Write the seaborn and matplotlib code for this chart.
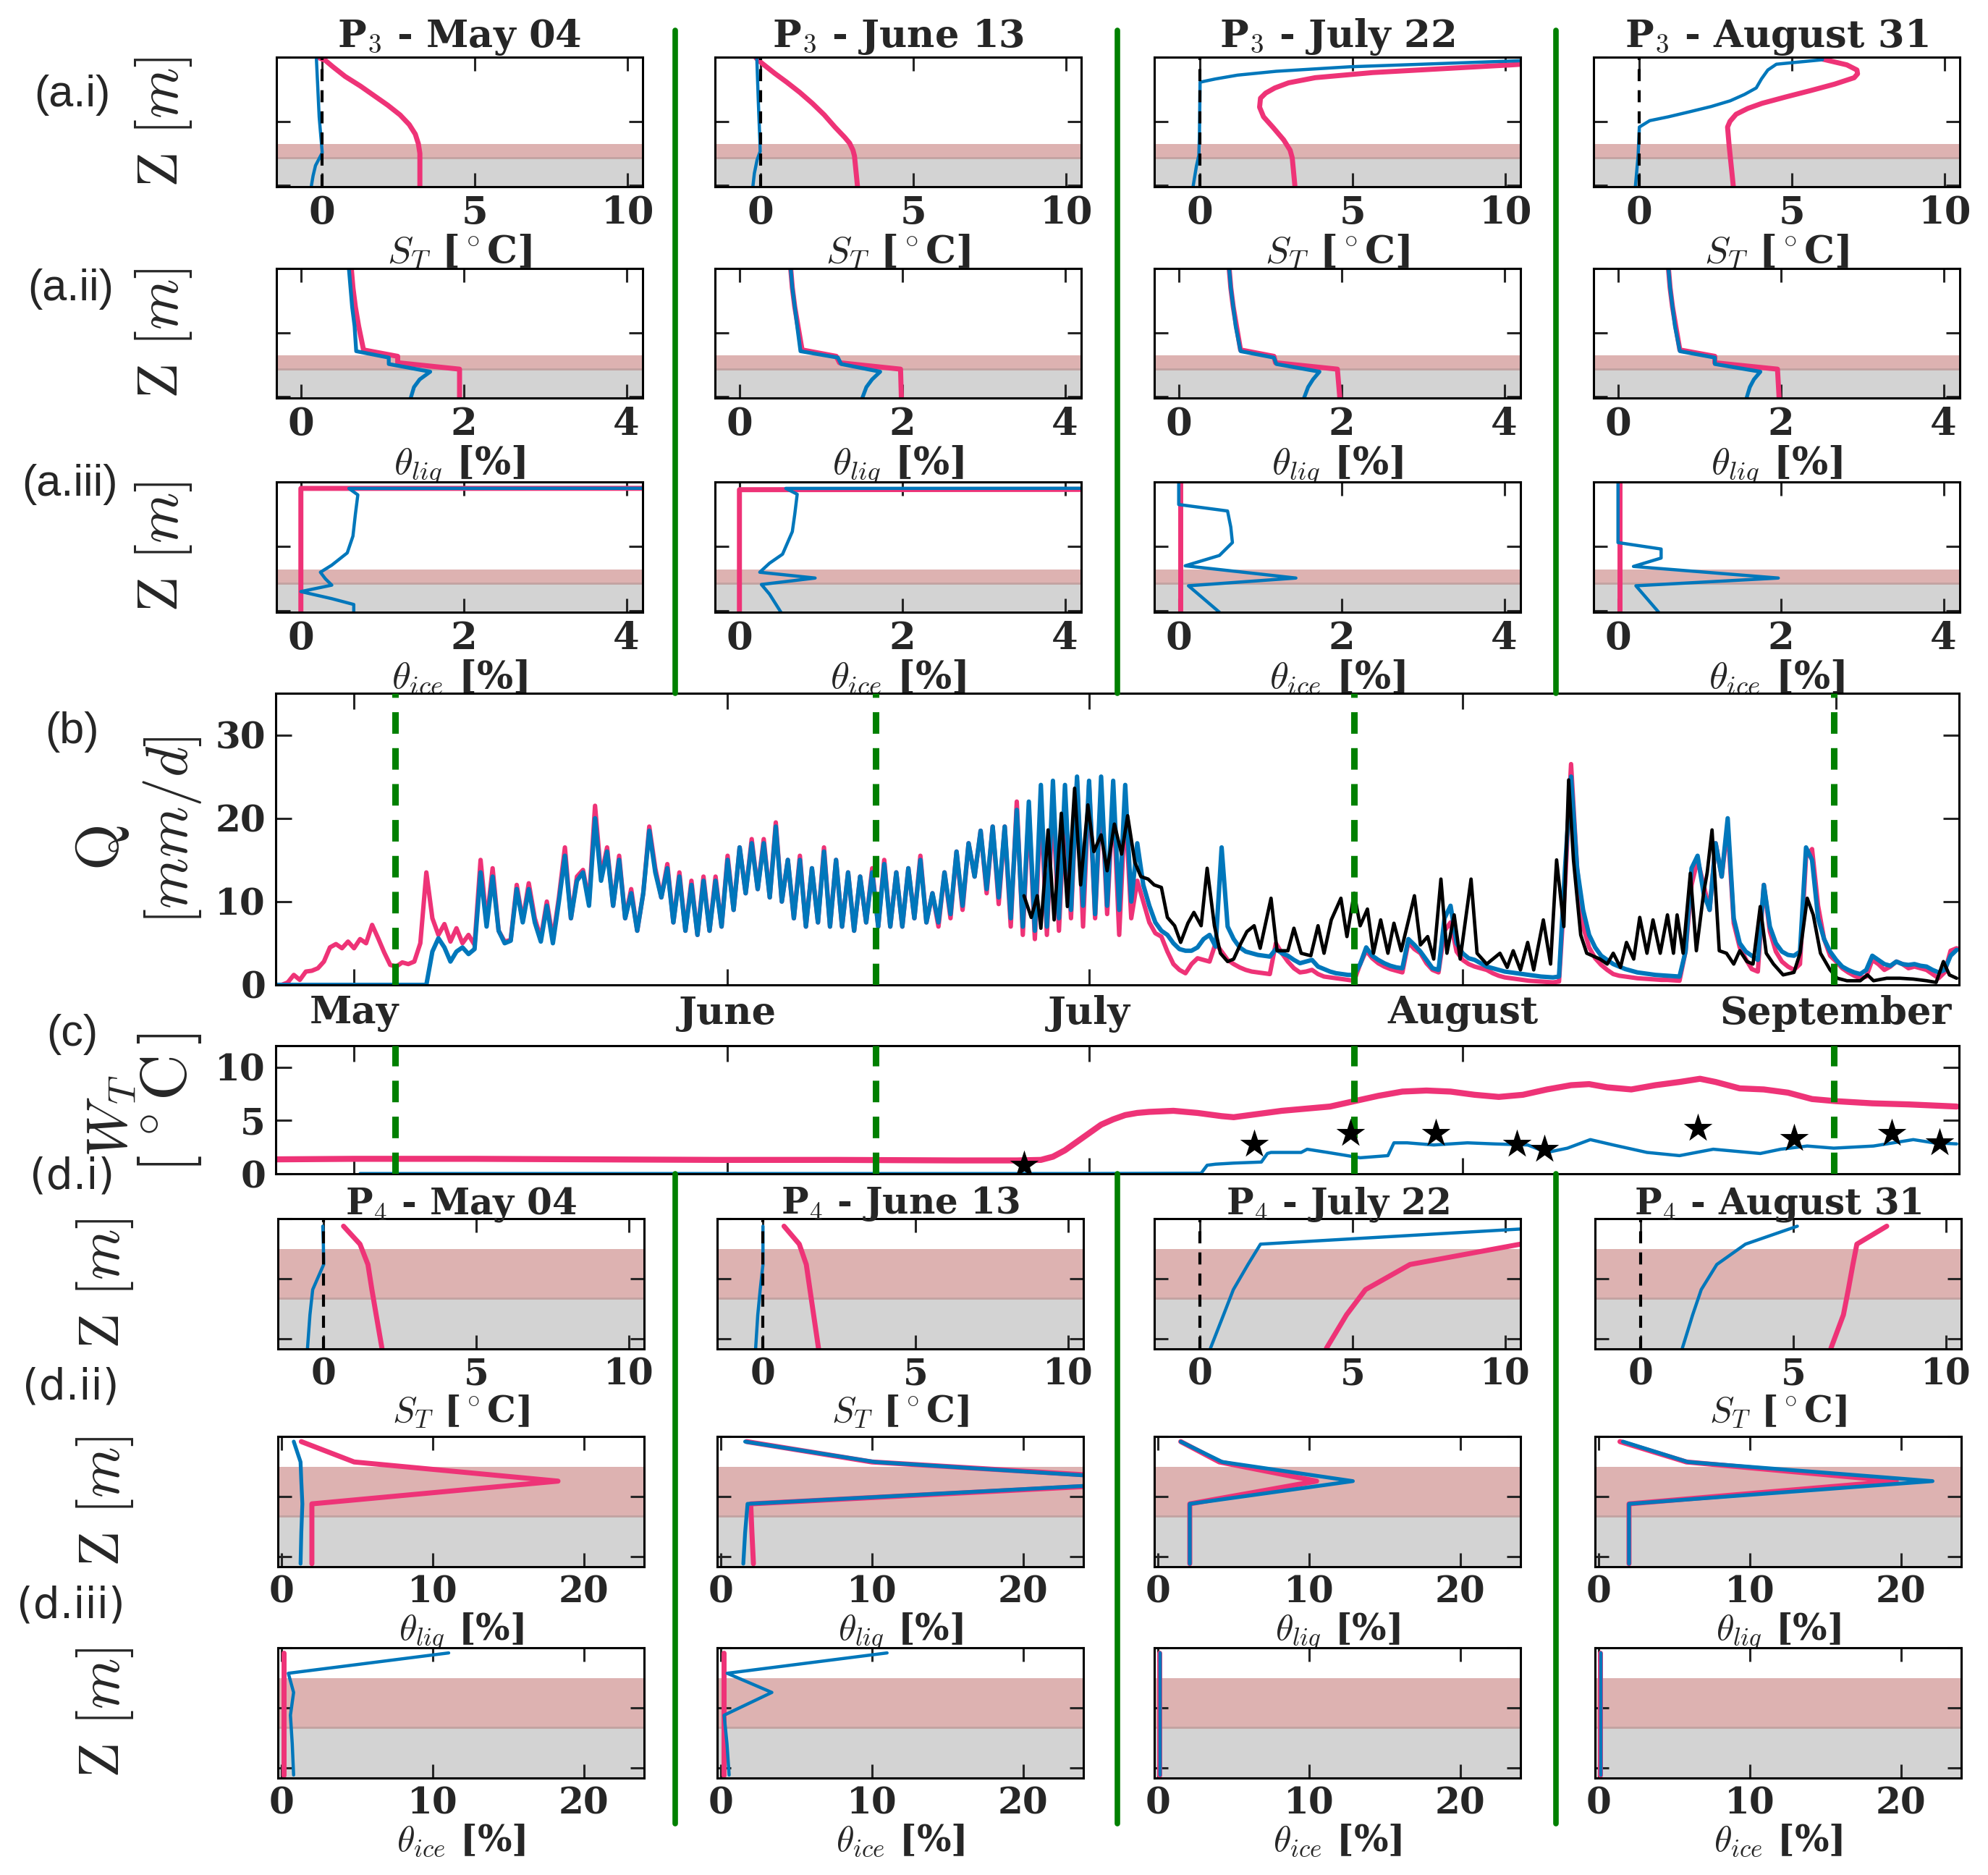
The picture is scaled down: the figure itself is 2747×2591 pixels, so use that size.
import numpy as np
import matplotlib
matplotlib.use("Agg")
import matplotlib.pyplot as plt
from matplotlib.lines import Line2D
import seaborn as sns

# ------------------------------------------------------------------ data
months = ["May", "June", "July", "August", "September"]
month_days = [0, 31, 61, 92, 123]            # days since May 1
profile_titles = ["May 04", "June 13", "July 22", "August 31"]
profile_days = [3.4, 43.3, 83.0, 122.8]       # dashed marker positions (days since May 1)

# discharge Q [mm/d] on a half-day grid starting -6.5 d
q_day = np.arange(-6.5, 133.01, 0.5)
q_pink = [
    0, 0, 0.3, 1.2, 0.6, 1.6, 1.7, 2.0, 2.8, 4.5,
    4.9, 4.4, 5.2, 4.4, 5.5, 5.0, 7.2, 5.6, 3.9, 2.4,
    2.2, 2.7, 2.5, 2.8, 5.0, 13.5, 8.0, 6.0, 7.3, 5.2,
    6.8, 5.0, 6.0, 4.8, 15.0, 7.5, 14.0, 6.5, 5.2, 5.4,
    12.0, 7.7, 12.2, 8.0, 5.6, 10.0, 5.5, 10.5, 16.5, 8.0,
    13.0, 13.8, 10.0, 21.5, 13.0, 16.5, 9.5, 15.5, 8.0, 11.5,
    6.5, 11.0, 19.0, 14.0, 10.5, 14.5, 7.5, 13.5, 6.5, 12.5,
    6.0, 13.0, 6.5, 13.0, 7.0, 15.5, 9.0, 16.5, 11.0, 17.5,
    11.5, 17.5, 10.5, 19.5, 10.0, 15.0, 8.0, 15.5, 7.0, 14.0,
    7.5, 16.5, 7.0, 15.0, 7.0, 13.5, 6.5, 13.0, 7.5, 14.0,
    7.0, 15.0, 7.0, 13.5, 7.0, 14.0, 8.0, 15.5, 7.5, 11.0,
    7.0, 13.5, 8.0, 16.0, 9.0, 17.0, 13.0, 18.5, 11.0, 19.0,
    9.7, 19.0, 7.0, 22.0, 6.0, 21.0, 5.5, 21.5, 6.0, 22.0,
    6.5, 22.0, 8.0, 24.5, 7.0, 24.0, 8.0, 23.5, 8.5, 22.5,
    6.0, 21.5, 8.0, 12.5, 10.0, 7.5, 6.2, 5.8, 4.0, 2.5,
    1.8, 1.4, 2.5, 3.2, 3.0, 2.8, 5.0, 4.0, 3.0, 2.5,
    2.1, 1.8, 1.6, 1.5, 1.4, 1.3, 5.0, 3.8, 2.8, 2.0,
    1.5, 1.6, 1.8, 1.3, 1.0, 0.9, 0.8, 0.7, 0.6, 0.5,
    2.5, 4.1, 3.2, 2.6, 2.2, 1.9, 1.7, 1.5, 5.1, 4.3,
    3.8, 2.6, 1.8, 1.5, 6.5, 7.5, 4.0, 3.0, 2.5, 2.2,
    2.0, 1.8, 1.4, 1.1, 0.9, 0.8, 0.7, 0.6, 0.5, 0.45,
    0.4, 0.35, 0.3, 0.4, 12.0, 26.5, 14.0, 7.0, 4.5, 3.2,
    2.4, 1.8, 1.3, 1.1, 1.0, 0.9, 0.8, 0.75, 0.7, 0.65,
    0.6, 0.6, 0.55, 0.5, 4.0, 12.0, 15.0, 12.0, 9.0, 17.0,
    13.0, 19.0, 7.4, 4.5, 3.1, 1.9, 1.6, 12.0, 6.4, 4.0,
    2.8, 2.2, 1.8, 2.5, 15.3, 16.3, 9.5, 5.5, 3.5, 2.8,
    2.0, 1.5, 1.1, 0.8, 1.0, 3.0, 2.5, 1.8, 2.2, 2.8,
    2.5, 2.0, 2.2, 2.0, 1.8, 1.3, 0.8, 1.5, 4.1, 4.4,
]
q_blue = [
    0, 0, 0, 0, 0, 0, 0, 0, 0, 0,
    0, 0, 0, 0, 0, 0, 0, 0, 0, 0,
    0, 0, 0, 0, 0, 0.0, 4.0, 5.6, 4.5, 2.8,
    4.0, 4.5, 3.7, 4.3, 13.5, 7.0, 13.0, 6.5, 5.0, 5.3,
    11.5, 7.5, 11.5, 7.5, 5.2, 9.5, 5.0, 10.0, 15.5, 8.0,
    12.5, 13.5, 9.5, 20.0, 12.5, 16.0, 9.5, 15.0, 8.0, 11.0,
    6.5, 11.0, 18.5, 13.5, 10.5, 14.0, 7.5, 13.0, 6.5, 12.0,
    6.0, 12.5, 6.5, 12.5, 7.0, 15.0, 9.0, 16.5, 11.0, 17.0,
    11.5, 17.0, 10.5, 19.0, 10.0, 15.0, 8.0, 15.0, 7.0, 14.0,
    7.5, 16.0, 7.0, 15.0, 7.0, 13.5, 6.5, 13.0, 7.5, 13.5,
    7.0, 14.5, 7.0, 13.5, 7.0, 14.0, 8.0, 15.0, 7.5, 11.0,
    7.5, 13.5, 8.5, 16.0, 9.5, 17.0, 13.0, 18.5, 11.5, 19.0,
    10.5, 19.0, 8.0, 21.0, 7.0, 22.0, 6.5, 24.0, 7.0, 24.5,
    8.0, 24.0, 9.0, 25.0, 9.5, 24.5, 8.5, 25.0, 9.5, 24.5,
    9.0, 24.0, 10.0, 17.0, 12.0, 9.5, 7.5, 6.5, 6.0, 5.0,
    4.3, 4.1, 4.1, 4.5, 5.5, 6.0, 4.6, 16.5, 7.0, 5.5,
    4.5, 4.0, 3.8, 3.6, 3.5, 3.4, 4.3, 3.8, 3.5, 3.0,
    2.6, 2.8, 3.0, 2.2, 1.9, 1.6, 1.4, 1.3, 1.2, 1.2,
    2.5, 4.5, 3.5, 3.0, 2.6, 2.3, 2.1, 2.0, 5.5, 4.8,
    4.0, 3.0, 2.0, 1.8, 8.0, 9.5, 5.0, 3.8, 3.2, 3.0,
    2.6, 2.2, 2.0, 1.8, 1.6, 1.5, 1.4, 1.3, 1.2, 1.1,
    1.0, 0.95, 0.9, 1.0, 14.0, 25.0, 14.0, 9.0, 6.0, 4.5,
    3.5, 3.0, 2.5, 2.2, 1.9, 1.7, 1.5, 1.4, 1.3, 1.2,
    1.15, 1.1, 1.05, 1.0, 4.0, 14.0, 15.5, 11.0, 9.0, 17.0,
    13.0, 20.0, 8.0, 5.0, 4.0, 3.5, 3.0, 12.0, 7.0, 5.0,
    4.0, 3.6, 3.5, 4.0, 16.5, 15.0, 8.0, 5.5, 4.0, 3.0,
    2.2, 1.8, 1.5, 1.3, 1.8, 3.5, 3.0, 2.5, 2.3, 2.8,
    2.5, 2.4, 2.5, 2.3, 2.2, 1.8, 1.5, 1.8, 3.5, 4.2,
]
q_obs_day = [55.6, 56.2, 56.7, 57.0, 57.6, 58.1, 58.7, 59.2, 59.8, 60.3, 60.9, 61.4, 62.0,
             62.5, 63.1, 63.7, 64.2, 64.8, 65.3, 65.9, 66.4, 67.0, 67.5, 68.1, 68.6, 69.2,
             69.7, 70.3, 70.8, 71.4, 71.9, 72.5, 73.0, 73.6, 74.1, 74.7, 75.2, 76.1, 76.6,
             77.5, 78.0, 78.6, 79.4, 80.0, 80.5, 81.1, 81.9, 82.4, 83.0, 83.5, 84.1, 84.6,
             85.2, 85.8, 86.3, 86.9, 87.4, 88.0, 88.5, 89.1, 89.6, 90.2, 90.7, 91.3, 91.8,
             92.7, 93.2, 94.0, 95.1, 95.7, 96.2, 96.8, 97.4, 97.9, 98.7, 99.3, 99.8, 100.4,
             100.8, 101.2, 101.8, 102.3, 103.4, 104.0, 104.5, 105.1, 105.6, 106.2, 106.7,
             107.3, 107.8, 108.4, 109.0, 109.5, 109.8, 110.3, 110.9, 111.4, 112.0, 112.3,
             112.7, 113.3, 113.9, 114.5, 115.0, 115.6, 116.1, 116.7, 117.2, 117.8, 118.6,
             119.5, 120.0, 120.6, 121.1, 121.7, 122.5, 123.1, 123.9, 125.0, 125.6, 126.1,
             127.2, 128.3, 129.4, 130.5, 131.3, 131.9, 132.4, 133.0]
q_obs = [10.7, 8.1, 10.7, 6.8, 18.6, 7.8, 20.6, 9.4, 23.6, 12.0, 21.6, 16.0, 18.0,
         13.7, 19.3, 15.7, 20.3, 14.7, 13.0, 12.7, 12.0, 11.7, 8.1, 7.1, 5.1, 7.4,
         8.7, 7.1, 14.0, 7.1, 3.8, 2.8, 3.1, 5.0, 6.4, 7.1, 4.4, 10.4, 4.1,
         4.1, 6.8, 3.8, 3.5, 7.1, 3.8, 7.8, 10.4, 5.8, 11.0, 7.1, 9.1, 3.8,
         7.8, 3.8, 7.4, 4.1, 7.1, 10.7, 4.8, 5.8, 3.1, 12.7, 3.8, 8.4, 3.1,
         12.7, 3.8, 2.5, 3.8, 2.1, 4.1, 1.8, 5.1, 1.8, 7.8, 2.5, 15.0, 7.0,
         24.6, 15.0, 6.0, 3.8, 3.1, 2.5, 3.8, 2.1, 5.1, 3.1, 8.1,
         3.8, 7.8, 3.8, 8.4, 3.8, 8.4, 3.8, 13.4, 4.1, 11.0, 13.5,
         18.6, 4.1, 3.8, 2.5, 4.1, 2.8, 2.5, 9.4, 3.8, 2.5, 1.2,
         1.5, 3.8, 10.4, 8.4, 3.8, 1.8, 0.8, 0.5, 0.5, 1.2, 0.5,
         0.8, 0.8, 0.7, 0.5, 0.3, 2.8, 1.2, 0.8]

# water temperature W_T [degC]
wt_pink_day = [-6.5, 0, 10, 20, 30, 40, 50, 55, 57, 58, 59, 60, 61, 62, 63, 64, 65, 66, 68,
               70, 72, 73, 75, 77, 79, 81, 83, 85, 87, 89, 91, 93, 95, 97, 99, 101, 102.5,
               104, 106, 108, 110, 111.7, 113, 115, 117, 119, 121, 123, 126, 129, 133]
wt_pink = [1.35, 1.4, 1.4, 1.35, 1.3, 1.3, 1.25, 1.25, 1.3, 1.6, 2.2, 3.0, 3.8, 4.6, 5.1, 5.5,
           5.7, 5.8, 5.9, 5.7, 5.4, 5.3, 5.6, 5.9, 6.1, 6.3, 6.8, 7.3, 7.7, 7.8, 7.7, 7.4,
           7.2, 7.4, 7.9, 8.3, 8.4, 8.1, 7.9, 8.3, 8.6, 8.9, 8.6, 8.0, 7.9, 7.6, 7.0, 6.8,
           6.6, 6.5, 6.3]
wt_blue_day = [0.5, 20, 40, 60, 70.3, 70.8, 71.5, 73, 75.3, 75.8, 76.1, 78.6, 79.1, 80.8, 83.5,
               85.8, 86.3, 87.4, 89.6, 92.4, 94.6, 97.4, 99.0, 100.7, 102.6, 104.5, 107.3,
               110, 112.8, 116.7, 118.4, 120.6, 122.8, 126.1, 129.4, 131.1, 133]
wt_blue = [0.02, 0.02, 0.02, 0.02, 0.05, 0.8, 0.9, 1.0, 1.1, 1.9, 2.0, 2.0, 2.3, 2.0, 1.5,
           1.7, 2.9, 2.9, 2.7, 2.9, 2.8, 2.7, 2.0, 2.4, 3.2, 2.7, 2.0, 1.7, 2.3, 1.9, 2.3,
           2.6, 2.4, 2.6, 3.2, 2.9, 2.8]
wt_obs_day = [55.6, 74.7, 82.7, 89.8, 96.5, 98.8, 111.5, 119.5, 127.6, 131.6]
wt_obs = [0.8, 2.8, 3.8, 3.8, 2.8, 2.3, 4.3, 3.3, 3.8, 2.9]

# ---- P3 profiles (depth Z [m]) ----
p3_st_pink_may_z = [0.0, -0.05, -0.15, -0.3, -0.45, -0.6, -0.75, -0.9, -1.05, -1.2, -1.35, -1.5, -1.7, -2.02]
p3_st_pink_may = [-0.15, 0.1, 0.35, 0.75, 1.25, 1.7, 2.15, 2.55, 2.85, 3.05, 3.15, 3.2, 3.2, 3.2]
p3_st_blue_may_z = [-0.03, -0.93, -1.49, -1.6, -1.69, -1.85, -2.02]
p3_st_blue_may = [-0.19, -0.1, 0.0, -0.12, -0.22, -0.3, -0.36]
p3_st_pink_jun_z = [-0.01, -0.08, -0.25, -0.39, -0.55, -0.72, -0.9, -1.09, -1.25, -1.34, -1.45, -1.54, -2.02]
p3_st_pink_jun = [-0.16, 0.0, 0.45, 0.85, 1.28, 1.69, 2.08, 2.43, 2.75, 2.91, 3.02, 3.07, 3.17]
p3_st_blue_jun_z = [-0.01, -0.7, -1.3, -1.47, -1.6, -1.81, -2.02]
p3_st_blue_jun = [-0.13, -0.08, -0.03, -0.02, -0.12, -0.21, -0.26]
p3_st_pink_jul_z = [-0.05, -0.12, -0.24, -0.32, -0.40, -0.48, -0.56, -0.64, -0.78, -0.93, -1.1, -1.29, -1.45, -1.57, -2.02]
p3_st_pink_jul = [12.5, 10.2, 5.66, 3.77, 2.9, 2.45, 2.15, 1.98, 1.95, 2.08, 2.4, 2.74, 2.95, 3.02, 3.11]
p3_st_blue_jul_z = [-0.03, -0.15, -0.22, -0.28, -0.34, -0.39, -0.8, -1.2, -1.53, -1.7, -2.02]
p3_st_blue_jul = [12.0, 4.9, 2.5, 1.23, 0.5, 0.0, -0.01, -0.02, -0.04, -0.12, -0.23]
p3_st_pink_aug_z = [-0.03, -0.12, -0.2, -0.26, -0.32, -0.42, -0.52, -0.62, -0.72, -0.8, -0.89, -1.0, -1.09, -1.37, -2.02]
p3_st_pink_aug = [6.0, 6.8, 7.13, 7.15, 7.04, 6.4, 5.62, 4.8, 4.02, 3.55, 3.17, 2.97, 2.89, 2.94, 3.08]
p3_st_blue_aug_z = [-0.04, -0.11, -0.2, -0.34, -0.48, -0.58, -0.68, -0.77, -0.85, -0.93, -0.99, -1.09, -1.53, -2.02]
p3_st_blue_aug = [6.0, 4.49, 4.21, 4.0, 3.83, 3.45, 2.98, 2.35, 1.66, 0.95, 0.34, 0.0, -0.04, -0.13]

p3_liq_pink_z = [0.0, -0.3, -0.6, -0.9, -1.27, -1.37, -1.47, -1.57, -2.02]
p3_liq_blue_z = [0.0, -0.3, -0.6, -0.9, -1.29, -1.39, -1.49, -1.61, -1.73, -1.85, -2.02]
p3_liq_pink_may = [0.62, 0.64, 0.67, 0.71, 0.77, 1.19, 1.19, 1.95, 1.95]
p3_liq_blue_may = [0.59, 0.61, 0.63, 0.66, 0.68, 1.08, 1.08, 1.59, 1.46, 1.39, 1.35]
p3_liq_pink_jun = [0.63, 0.65, 0.68, 0.72, 0.77, 1.19, 1.23, 1.98, 1.99]
p3_liq_blue_jun = [0.63, 0.65, 0.68, 0.71, 0.75, 1.21, 1.25, 1.73, 1.63, 1.56, 1.51]
p3_liq_pink_jul = [0.62, 0.64, 0.67, 0.71, 0.76, 1.17, 1.19, 1.95, 1.98]
p3_liq_blue_jul = [0.62, 0.64, 0.67, 0.70, 0.76, 1.17, 1.2, 1.73, 1.65, 1.59, 1.54]
p3_liq_pink_aug = [0.62, 0.64, 0.67, 0.71, 0.76, 1.19, 1.19, 1.96, 1.98]
p3_liq_blue_aug = [0.62, 0.64, 0.67, 0.70, 0.76, 1.19, 1.19, 1.75, 1.67, 1.62, 1.58]

p3_ice_pink_may_z = [-0.09, -0.10, -2.02]
p3_ice_pink_may = [30.0, 0.0, 0.0]
p3_ice_blue_may_z = [-0.085, -0.10, -0.2, -0.5, -0.84, -1.1, -1.29, -1.40, -1.5, -1.6, -1.7, -1.81, -1.9, -2.02]
p3_ice_blue_may = [30.0, 0.59, 0.70, 0.67, 0.64, 0.57, 0.38, 0.24, 0.3, 0.38, 0.0, 0.38, 0.65, 0.65]
p3_ice_pink_jun_z = [-0.09, -0.12, -2.02]
p3_ice_pink_jun = [30.0, 0.0, 0.0]
p3_ice_blue_jun_z = [-0.085, -0.10, -0.19, -0.5, -0.77, -1.12, -1.26, -1.40, -1.49, -1.59, -1.74, -2.02]
p3_ice_blue_jun = [30.0, 0.57, 0.71, 0.68, 0.65, 0.53, 0.37, 0.25, 0.93, 0.27, 0.37, 0.51]
p3_ice_pink_jul_z = [0.0, -2.02]
p3_ice_pink_jul = [0.02, 0.02]
p3_ice_blue_jul_z = [-0.02, -0.35, -0.45, -0.7, -0.94, -1.14, -1.3, -1.49, -1.61, -2.02]
p3_ice_blue_jul = [0.0, 0.0, 0.6, 0.64, 0.66, 0.5, 0.08, 1.44, 0.12, 0.5]
p3_ice_pink_aug_z = [0.0, -2.02]
p3_ice_pink_aug = [0.02, 0.02]
p3_ice_blue_aug_z = [-0.02, -0.94, -1.04, -1.18, -1.31, -1.49, -1.61, -2.02]
p3_ice_blue_aug = [0.0, 0.0, 0.53, 0.53, 0.19, 1.97, 0.22, 0.5]

# ---- P4 profiles ----
p4_st_z = [-0.06, -0.21, -0.38, -0.59, -0.80, -1.08]
p4_st_pink_may = [0.65, 1.19, 1.45, 1.58, 1.72, 1.91]
p4_st_blue_may = [-0.03, -0.01, 0.0, -0.36, -0.45, -0.53]
p4_st_pink_jun = [0.69, 1.19, 1.42, 1.54, 1.66, 1.82]
p4_st_blue_jun = [0.0, 0.0, 0.0, -0.09, -0.17, -0.24]
p4_st_pink_jul = [13.5, 10.5, 6.88, 5.42, 4.8, 4.14]
p4_st_blue_jul = [12.1, 1.98, 1.57, 1.09, 0.77, 0.34]
p4_st_pink_aug = [8.06, 7.08, 6.95, 6.8, 6.64, 6.23]
p4_st_blue_aug = [5.13, 3.43, 2.49, 1.98, 1.7, 1.36]

p4_w_z = [-0.04, -0.21, -0.37, -0.56, -0.80, -1.06]
p4_liq_pink_may = [1.3, 4.8, 18.3, 2.0, 2.0, 2.0]
p4_liq_blue_may = [0.8, 1.25, 1.3, 1.37, 1.3, 1.25]
p4_liq_pink_jun = [1.7, 10.0, 31.0, 1.97, 2.05, 2.15]
p4_liq_blue_jun = [1.6, 10.2, 30.0, 1.76, 1.6, 1.48]
p4_liq_pink_jul = [1.5, 4.06, 10.5, 2.1, 2.1, 2.1]
p4_liq_blue_jul = [1.5, 4.25, 12.9, 2.1, 2.1, 2.1]
p4_liq_pink_aug = [1.4, 5.8, 19.7, 2.0, 2.0, 2.0]
p4_liq_blue_aug = [1.6, 5.9, 22.1, 2.0, 2.0, 2.0]

p4_ice_pink_may = [0.15, 0.15, 0.15, 0.15, 0.15, 0.15]
p4_ice_blue_may = [11.06, 0.44, 0.79, 0.58, 0.7, 0.79]
p4_ice_pink_jun = [0.2, 0.2, 0.2, 0.2, 0.2, 0.2]
p4_ice_blue_jun = [11.0, 0.41, 3.37, 0.21, 0.4, 0.54]
p4_ice_pink_jul = [0.1, 0.1, 0.1, 0.1, 0.1, 0.1]
p4_ice_blue_jul = [0.12, 0.12, 0.12, 0.12, 0.12, 0.12]
p4_ice_pink_aug = [0.1, 0.1, 0.1, 0.1, 0.1, 0.1]
p4_ice_blue_aug = [0.12, 0.12, 0.12, 0.12, 0.12, 0.12]

# soil layer bands (Z in m): (bottom, top) of grey and rose layers
p3_grey_band = (-2.02, -1.569)
p3_rose_band = (-1.569, -1.356)
p4_grey_band = (-1.085, -0.66)
p4_rose_band = (-0.66, -0.25)

# ------------------------------------------------------------------ style
sns.set_theme(style="ticks")
plt.rcParams["font.family"] = ["DejaVu Serif"]
plt.rcParams["font.weight"] = "bold"
plt.rcParams["axes.labelweight"] = "bold"
plt.rcParams["mathtext.fontset"] = "cm"
plt.rcParams["axes.linewidth"] = 2.2
plt.rcParams["axes.edgecolor"] = "black"

PINK = "#EE3377"
BLUE = "#0077BB"
GREEN = "#008000"
GREY_FILL = "#d3d3d3"
ROSE_FILL = "#ddb2b1"
EDGE = "#c2a2a1"

W, H = 2747, 2591
fig = plt.figure(figsize=(W / 100, H / 100), dpi=100)


def px_axes(left, top, width, height):
    return fig.add_axes([left / W, 1 - (top + height) / H, width / W, height / H])


def line(ax, x, y, color, lw):
    sns.lineplot(x=x, y=y, sort=False, estimator=None, color=color, linewidth=lw, ax=ax)


def profile(ax, curves, xlim, xticks, ylim, yticks, grey, rose, xlabel, fs, zero_line=False):
    ax.axhspan(grey[0], grey[1], color=GREY_FILL, lw=0, zorder=0)
    ax.axhspan(rose[0], rose[1], color=ROSE_FILL, lw=0, zorder=0)
    ax.axhline(grey[1], color=EDGE, lw=2, zorder=0.5)
    for x, z, color, lw in curves:
        line(ax, x, z, color, lw)
    if zero_line:
        ax.axvline(0, color="black", lw=3, ls=(0, (4, 3)), zorder=3)
    ax.set_xlim(*xlim)
    ax.set_ylim(*ylim)
    ax.set_xticks(xticks)
    ax.set_xticklabels([str(t) for t in xticks])
    ax.set_yticks(yticks)
    ax.tick_params(axis="both", direction="in", top=True, right=True, length=14,
                   width=2.2, labelsize=fs, pad=8, labelleft=False)
    if xlabel:
        ax.set_xlabel(xlabel, fontsize=fs, labelpad=1)
    else:
        ax.set_xlabel("")
    ax.set_ylabel("")
    for s in ax.spines.values():
        s.set_linewidth(2.2)
        s.set_color("black")


ST_LABEL = r"$S_T$ [$^\circ$C]"
LIQ_LABEL = r"$\theta_{liq}$ [%]"
ICE_LABEL = r"$\theta_{ice}$ [%]"
Z_LABEL = r"$\mathrm{Z}\ [m]$"

# ------------------------------------------------------------------ P3 block
top_lefts = [382, 988, 1595, 2202]
top_rows = [(79, 179), (371, 179), (666, 180)]
p3_st = [(p3_st_pink_may, p3_st_pink_may_z, p3_st_blue_may, p3_st_blue_may_z),
         (p3_st_pink_jun, p3_st_pink_jun_z, p3_st_blue_jun, p3_st_blue_jun_z),
         (p3_st_pink_jul, p3_st_pink_jul_z, p3_st_blue_jul, p3_st_blue_jul_z),
         (p3_st_pink_aug, p3_st_pink_aug_z, p3_st_blue_aug, p3_st_blue_aug_z)]
p3_liq = [(p3_liq_pink_may, p3_liq_blue_may), (p3_liq_pink_jun, p3_liq_blue_jun),
          (p3_liq_pink_jul, p3_liq_blue_jul), (p3_liq_pink_aug, p3_liq_blue_aug)]
p3_ice = [(p3_ice_pink_may, p3_ice_pink_may_z, p3_ice_blue_may, p3_ice_blue_may_z),
          (p3_ice_pink_jun, p3_ice_pink_jun_z, p3_ice_blue_jun, p3_ice_blue_jun_z),
          (p3_ice_pink_jul, p3_ice_pink_jul_z, p3_ice_blue_jul, p3_ice_blue_jul_z),
          (p3_ice_pink_aug, p3_ice_pink_aug_z, p3_ice_blue_aug, p3_ice_blue_aug_z)]

FS_TOP = 38
LW_P, LW_B = 5.0, 3.2
p3_ylim = (-2.02, 0.0)
p3_yticks = [-2, -1, 0]
for c, left in enumerate(top_lefts):
    pk, pkz, bl, blz = p3_st[c]
    ax = px_axes(left, top_rows[0][0], 506, top_rows[0][1])
    profile(ax, [(pk, pkz, PINK, LW_P), (bl, blz, BLUE, LW_B)], (-1.5, 10.5), [0, 5, 10],
            p3_ylim, p3_yticks, p3_grey_band, p3_rose_band, ST_LABEL, FS_TOP, zero_line=True)
    ax.set_title("P$_3$ - " + profile_titles[c], fontsize=FS_TOP, fontweight="bold", pad=10)
    if c == 0:
        ax.set_ylabel(Z_LABEL, fontsize=58)
        ax.yaxis.set_label_coords(-0.225, 0.5)

    pk, bl = p3_liq[c]
    ax = px_axes(left, top_rows[1][0], 506, top_rows[1][1])
    profile(ax, [(pk, p3_liq_pink_z, PINK, LW_P), (bl, p3_liq_blue_z, BLUE, LW_B + 0.6)],
            (-0.3, 4.2), [0, 2, 4], p3_ylim, p3_yticks, p3_grey_band, p3_rose_band,
            LIQ_LABEL, FS_TOP)
    if c == 0:
        ax.set_ylabel(Z_LABEL, fontsize=58)
        ax.yaxis.set_label_coords(-0.225, 0.5)

    pk, pkz, bl, blz = p3_ice[c]
    ax = px_axes(left, top_rows[2][0], 506, top_rows[2][1])
    profile(ax, [(pk, pkz, PINK, LW_P), (bl, blz, BLUE, LW_B)], (-0.3, 4.2), [0, 2, 4],
            p3_ylim, p3_yticks, p3_grey_band, p3_rose_band, ICE_LABEL, FS_TOP)
    if c == 0:
        ax.set_ylabel(Z_LABEL, fontsize=58)
        ax.yaxis.set_label_coords(-0.225, 0.5)

# ------------------------------------------------------------------ panel (b)
FS_B = 36
DASH = (0, (3.3, 2.2))
axb = px_axes(381, 958, 2326, 403)
for d in profile_days:
    axb.axvline(d, color=GREEN, lw=6.5, ls=DASH, zorder=5)
line(axb, q_day, q_pink, PINK, 4.4)
line(axb, q_day, q_blue, BLUE, 4.4)
line(axb, q_obs_day, q_obs, "black", 3.4)
axb.set_xlim(-6.5, 133.2)
axb.set_ylim(0, 35)
axb.set_yticks([0, 10, 20, 30])
axb.set_xticks(month_days)
axb.set_xticklabels(months, fontsize=38, fontweight="bold")
axb.tick_params(axis="both", direction="in", top=True, right=True, length=16, width=2.2,
                labelsize=FS_B, pad=10)
axb.tick_params(axis="x", labelsize=38)
axb.set_xlabel("")
axb.set_ylabel("$[mm/d]$", fontsize=58)
axb.yaxis.set_label_coords(-0.043, 0.53)
axb.text(-0.086, 0.47, "$\\mathrm{Q}$", transform=axb.transAxes, rotation=90, fontsize=60,
         ha="right", va="center")

# ------------------------------------------------------------------ panel (c)
axc = px_axes(381, 1445, 2326, 177)
for d in profile_days:
    axc.axvline(d, color=GREEN, lw=6.5, ls=DASH, zorder=5)
line(axc, wt_pink_day, wt_pink, PINK, 6.0)
line(axc, wt_blue_day, wt_blue, BLUE, 3.2)
sns.scatterplot(x=wt_obs_day, y=wt_obs, marker="*", s=900, color="black", linewidth=0,
                ax=axc, zorder=6)
axc.set_xlim(-6.5, 133.2)
axc.set_ylim(0, 12)
axc.set_yticks([0, 5, 10])
axc.set_xticks(month_days)
axc.set_xticklabels([])
axc.tick_params(axis="both", direction="in", top=True, right=True, length=16, width=2.2,
                labelsize=FS_B, pad=10)
axc.set_xlabel("")
axc.set_ylabel("$[\\,^\\circ\\mathrm{C}\\,]$", fontsize=64)
axc.yaxis.set_label_coords(-0.043, 0.55)
axc.text(-0.082, 0.45, "$W_T$", transform=axc.transAxes, rotation=90, fontsize=56,
         ha="right", va="center")

# ------------------------------------------------------------------ P4 block
bot_lefts = [384, 991, 1595, 2204]
bot_rows = [(1684, 180), (1985, 180), (2277, 180)]
p4_st = [(p4_st_pink_may, p4_st_blue_may), (p4_st_pink_jun, p4_st_blue_jun),
         (p4_st_pink_jul, p4_st_blue_jul), (p4_st_pink_aug, p4_st_blue_aug)]
p4_liq = [(p4_liq_pink_may, p4_liq_blue_may), (p4_liq_pink_jun, p4_liq_blue_jun),
          (p4_liq_pink_jul, p4_liq_blue_jul), (p4_liq_pink_aug, p4_liq_blue_aug)]
p4_ice = [(p4_ice_pink_may, p4_ice_blue_may), (p4_ice_pink_jun, p4_ice_blue_jun),
          (p4_ice_pink_jul, p4_ice_blue_jul), (p4_ice_pink_aug, p4_ice_blue_aug)]
FS_BOT = 36
p4_ylim = (-1.085, 0.003)
p4_yticks = [-1.0, -0.5, 0.0]
for c, left in enumerate(bot_lefts):
    pk, bl = p4_st[c]
    ax = px_axes(left, bot_rows[0][0], 506, bot_rows[0][1])
    profile(ax, [(pk, p4_st_z, PINK, LW_P), (bl, p4_st_z, BLUE, LW_B)], (-1.5, 10.5),
            [0, 5, 10], p4_ylim, p4_yticks, p4_grey_band, p4_rose_band,
            ST_LABEL if c != 2 else None, FS_BOT, zero_line=True)
    ax.set_title("P$_4$ - " + profile_titles[c], fontsize=FS_BOT, fontweight="bold", pad=5)
    if c == 0:
        ax.set_ylabel(Z_LABEL, fontsize=58)
        ax.yaxis.set_label_coords(-0.39, 0.5)

    pk, bl = p4_liq[c]
    ax = px_axes(left, bot_rows[1][0], 506, bot_rows[1][1])
    profile(ax, [(pk, p4_w_z, PINK, LW_P), (bl, p4_w_z, BLUE, LW_B + 0.6)], (-0.25, 24),
            [0, 10, 20], p4_ylim, p4_yticks, p4_grey_band, p4_rose_band, LIQ_LABEL, FS_BOT)
    if c == 0:
        ax.set_ylabel(Z_LABEL, fontsize=58)
        ax.yaxis.set_label_coords(-0.39, 0.5)

    pk, bl = p4_ice[c]
    ax = px_axes(left, bot_rows[2][0], 506, bot_rows[2][1])
    profile(ax, [(pk, p4_w_z, PINK, LW_P), (bl, p4_w_z, BLUE, LW_B)], (-0.25, 24),
            [0, 10, 20], p4_ylim, p4_yticks, p4_grey_band, p4_rose_band, ICE_LABEL, FS_BOT)
    if c == 0:
        ax.set_ylabel(Z_LABEL, fontsize=58)
        ax.yaxis.set_label_coords(-0.39, 0.5)

# ------------------------------------------------------------------ separators & panel tags
for x in [933, 1544, 2150]:
    fig.add_artist(Line2D([x / W, x / W], [1 - 42 / H, 1 - 958 / H], color=GREEN, lw=5.5))
    fig.add_artist(Line2D([x / W, x / W], [1 - 1622 / H, 1 - 2520 / H], color=GREEN, lw=5.5))

tags_top = [("(a.i)", 100, 131), ("(a.ii)", 98, 400), ("(a.iii)", 96, 669),
            ("(b)", 100, 1012), ("(c)", 100, 1430)]
for t, x, y in tags_top:
    fig.text(x / W, 1 - y / H, t, fontsize=44, family="Liberation Sans", fontweight="normal",
             ha="center", va="center")
tags_bot = [("(d.i)", 100, 1626), ("(d.ii)", 98, 1917), ("(d.iii)", 98, 2219)]
for t, x, y in tags_bot:
    fig.text(x / W, 1 - y / H, t, fontsize=42, family="DejaVu Sans", fontweight="normal",
             ha="center", va="center")

fig.savefig("out.png", dpi=100, facecolor="white")
